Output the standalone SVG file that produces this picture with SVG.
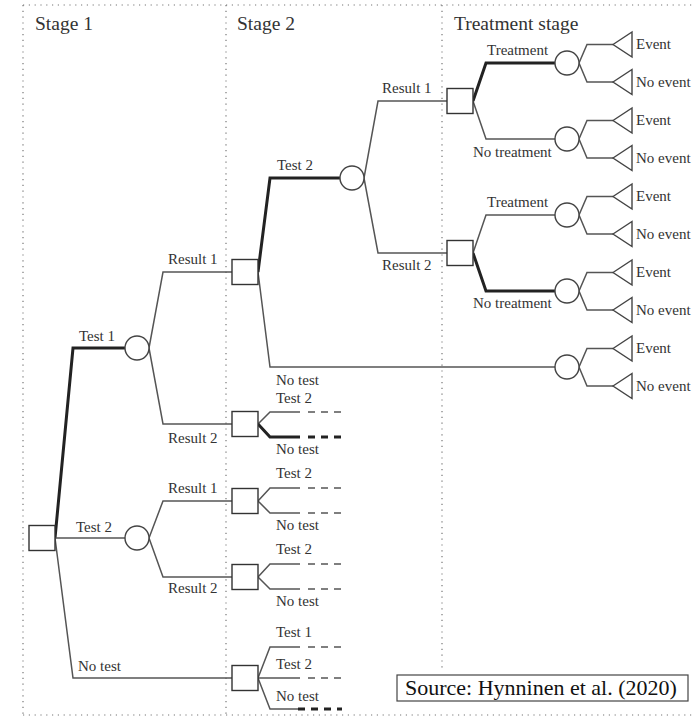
<svg xmlns="http://www.w3.org/2000/svg" width="693" height="717" viewBox="0 0 693 717">
<style>
  .dot { stroke:#777; stroke-width:1.2; stroke-dasharray:1.2 4.6; fill:none; }
  .ln { stroke:#555; stroke-width:1.5; fill:none; }
  .thk { stroke:#222; stroke-width:3; fill:none; }
  .dsh { stroke:#555; stroke-width:1.5; fill:none; stroke-dasharray:7 6; }
  .tdsh { stroke:#222; stroke-width:3; fill:none; stroke-dasharray:7 6; }
  .dec { fill:#fff; stroke:#333; stroke-width:1.4; }
  .chc { fill:#fff; stroke:#444; stroke-width:1.4; }
  .end { fill:#fff; stroke:#444; stroke-width:1.4; }
  text { font-family:"Liberation Serif","Times New Roman",serif; fill:#333; }
  .lbl { font-size:15px; }
  .stg { font-size:19.5px; }
  .src { font-size:22px; fill:#111; }
</style>
<rect width="693" height="717" fill="#fff"/>
<g id="frame">
  <line class="dot" x1="23" y1="5" x2="693" y2="5"/>
  <line class="dot" x1="23" y1="5" x2="23" y2="715"/>
  <line class="dot" x1="23" y1="715" x2="693" y2="715"/>
  <line class="dot" x1="226" y1="5" x2="226" y2="715"/>
  <line class="dot" x1="442" y1="5" x2="442" y2="668"/>
  <text class="stg" x="35" y="30">Stage 1</text>
  <text class="stg" x="237" y="30">Stage 2</text>
  <text class="stg" x="454" y="30">Treatment stage</text>
</g>
<g id="connectors">
  <path class="thk" d="M55,538 L73,348 L125,348"/>
  <path class="ln" d="M55,538 L125,538"/>
  <path class="ln" d="M55,538 L73,678 L232,678"/>
  <path class="ln" d="M149,348 L163,272 L232,272"/>
  <path class="ln" d="M149,348 L163,424 L232,424"/>
  <path class="ln" d="M149,538 L163,501 L232,501"/>
  <path class="ln" d="M149,538 L163,577 L232,577"/>
  <path class="thk" d="M258,272 L270,178 L340,178"/>
  <path class="ln" d="M258,272 L270,367 L555,367"/>
  <path class="ln" d="M364,178 L378,101 L447,101"/>
  <path class="ln" d="M364,178 L378,253 L447,253"/>
  <path class="thk" d="M473,101 L486,63 L555,63"/>
  <path class="ln" d="M473,101 L486,139 L555,139"/>
  <path class="ln" d="M473,253 L486,215 L555,215"/>
  <path class="thk" d="M473,253 L486,291 L555,291"/>
  <path class="ln" d="M579,63 L587,44.5 L613,44.5 M579,63 L587,82 L613,82"/>
  <path class="ln" d="M579,139 L587,120.5 L613,120.5 M579,139 L587,158 L613,158"/>
  <path class="ln" d="M579,215 L587,196.5 L613,196.5 M579,215 L587,234 L613,234"/>
  <path class="ln" d="M579,291 L587,272.5 L613,272.5 M579,291 L587,310 L613,310"/>
  <path class="ln" d="M579,367 L587,348.5 L613,348.5 M579,367 L587,386 L613,386"/>
  <path class="ln" d="M258,424 L270,412 L300,412"/>
  <line class="dsh" x1="308" y1="412" x2="342" y2="412"/>
  <path class="thk" d="M258,424 L270,437 L300,437"/>
  <line class="tdsh" x1="308" y1="437" x2="342" y2="437"/>
  <path class="ln" d="M258,501 L270,488 L300,488"/>
  <line class="dsh" x1="308" y1="488" x2="342" y2="488"/>
  <path class="ln" d="M258,501 L270,513 L300,513"/>
  <line class="dsh" x1="308" y1="513" x2="342" y2="513"/>
  <path class="ln" d="M258,577 L270,564 L300,564"/>
  <line class="dsh" x1="308" y1="564" x2="342" y2="564"/>
  <path class="ln" d="M258,577 L270,589 L300,589"/>
  <line class="dsh" x1="308" y1="589" x2="342" y2="589"/>
  <path class="ln" d="M258,678 L270,647 L300,647"/>
  <line class="dsh" x1="308" y1="647" x2="342" y2="647"/>
  <path class="ln" d="M258,678 L300,678"/>
  <line class="dsh" x1="308" y1="678" x2="342" y2="678"/>
  <path class="ln" d="M258,678 L270,709 L298,709"/>
  <line class="tdsh" x1="298" y1="709" x2="342" y2="709"/>
</g>
<g id="labels" class="lbl">
  <text x="79" y="341">Test 1</text>
  <text x="76" y="532">Test 2</text>
  <text x="78" y="671">No test</text>
  <text x="168" y="264">Result 1</text>
  <text x="168" y="443">Result 2</text>
  <text x="168" y="493">Result 1</text>
  <text x="168" y="593">Result 2</text>
  <text x="277" y="170">Test 2</text>
  <text x="276" y="385">No test</text>
  <text x="276" y="403">Test 2</text>
  <text x="276" y="454">No test</text>
  <text x="276" y="478">Test 2</text>
  <text x="276" y="530">No test</text>
  <text x="276" y="554">Test 2</text>
  <text x="276" y="606">No test</text>
  <text x="276" y="637">Test 1</text>
  <text x="276" y="669">Test 2</text>
  <text x="276" y="701">No test</text>
  <text x="382" y="93">Result 1</text>
  <text x="382" y="270">Result 2</text>
  <text x="487" y="55">Treatment</text>
  <text x="473" y="157">No treatment</text>
  <text x="487" y="207">Treatment</text>
  <text x="473" y="308">No treatment</text>
  <text x="636" y="49">Event</text>
  <text x="636" y="87">No event</text>
  <text x="636" y="125">Event</text>
  <text x="636" y="163">No event</text>
  <text x="636" y="201">Event</text>
  <text x="636" y="239">No event</text>
  <text x="636" y="277">Event</text>
  <text x="636" y="315">No event</text>
  <text x="636" y="353">Event</text>
  <text x="636" y="391">No event</text>
</g>
<g id="root"><rect class="dec" x="29" y="525.5" width="26" height="25"/></g>
<g id="c-test1"><circle class="chc" cx="137" cy="348" r="12"/></g>
<g id="c-test2"><circle class="chc" cx="137" cy="538" r="12"/></g>
<g id="d-t1r1"><rect class="dec" x="232" y="259.5" width="26" height="25"/></g>
<g id="d-t1r2"><rect class="dec" x="232" y="411.5" width="26" height="25"/></g>
<g id="d-t2r1"><rect class="dec" x="232" y="488.5" width="26" height="25"/></g>
<g id="d-t2r2"><rect class="dec" x="232" y="564.5" width="26" height="25"/></g>
<g id="d-notest"><rect class="dec" x="232" y="665.5" width="26" height="25"/></g>
<g id="c-s2test2"><circle class="chc" cx="352" cy="178" r="12"/></g>
<g id="d-tr1"><rect class="dec" x="447" y="88.5" width="26" height="25"/></g>
<g id="d-tr2"><rect class="dec" x="447" y="240.5" width="26" height="25"/></g>
<g id="c-o1"><circle class="chc" cx="567" cy="63" r="12"/></g>
<g id="c-o2"><circle class="chc" cx="567" cy="139" r="12"/></g>
<g id="c-o3"><circle class="chc" cx="567" cy="215" r="12"/></g>
<g id="c-o4"><circle class="chc" cx="567" cy="291" r="12"/></g>
<g id="c-o5"><circle class="chc" cx="567" cy="367" r="12"/></g>
<g id="endpoints">
  <polygon class="end" points="613,44.5 632,32 632,57"/>
  <polygon class="end" points="613,82 632,69.5 632,94.5"/>
  <polygon class="end" points="613,120.5 632,108 632,133"/>
  <polygon class="end" points="613,158 632,145.5 632,170.5"/>
  <polygon class="end" points="613,196.5 632,184 632,209"/>
  <polygon class="end" points="613,234 632,221.5 632,246.5"/>
  <polygon class="end" points="613,272.5 632,260 632,285"/>
  <polygon class="end" points="613,310 632,297.5 632,322.5"/>
  <polygon class="end" points="613,348.5 632,336 632,361"/>
  <polygon class="end" points="613,386 632,373.5 632,398.5"/>
</g>
<g id="source">
  <rect x="397" y="675" width="291" height="26" fill="#fff" stroke="#444" stroke-width="1.2"/>
  <text class="src" x="405" y="695">Source: Hynninen et al. (2020)</text>
</g>
</svg>
